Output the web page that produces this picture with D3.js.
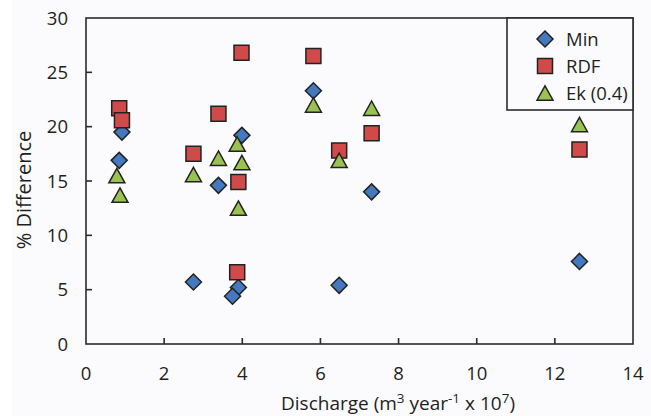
<!DOCTYPE html>
<html>
<head>
<meta charset="utf-8">
<script src="https://cdn.jsdelivr.net/npm/d3@7"></script>
<style>
  body { margin: 0; background: #fff; }
  text { font-family: "Open Sans", sans-serif; fill: #231f20; }
</style>
</head>
<body>
<script>
// Data: discharge (x 10^7 m3/yr) and % difference
const minX = [0.92, 0.85, 2.75, 3.39, 3.99, 3.90, 3.75, 5.82, 6.48, 7.31, 12.63];
const minY = [19.5, 16.9, 5.7, 14.6, 19.2, 5.2, 4.4, 23.3, 5.4, 14.0, 7.6];
const rdfX = [0.85, 0.92, 2.75, 3.39, 3.98, 3.90, 3.87, 5.82, 6.48, 7.31, 12.63];
const rdfY = [21.7, 20.6, 17.5, 21.2, 26.8, 14.9, 6.6, 26.5, 17.8, 19.4, 17.9];
const ekX = [0.79, 0.87, 2.75, 3.39, 3.87, 3.99, 3.90, 5.82, 6.48, 7.31, 12.63];
const ekY = [15.5, 13.7, 15.6, 17.1, 18.4, 16.7, 12.5, 22.0, 16.9, 21.7, 20.2];

const xTicks = [0, 2, 4, 6, 8, 10, 12, 14];
const yTicks = [0, 5, 10, 15, 20, 25, 30];
const seriesNames = ["Min", "RDF", "Ek (0.4)"];

// Layout
const W = 651, H = 416;
const plot = { left: 86, right: 633, top: 18, bottom: 344 };

const svg = d3.select("body").append("svg")
  .attr("width", W).attr("height", H);

svg.append("rect").attr("x", 12).attr("y", 0).attr("width", W - 12).attr("height", H)
  .attr("fill", "#fbfbfd");

const x = d3.scaleLinear().domain([0, 14]).range([plot.left, plot.right]);
const y = d3.scaleLinear().domain([0, 30]).range([plot.bottom, plot.top]);

// Marker shapes
const diamond = s => `M0,${-s}L${s},0L0,${s}L${-s},0Z`;
const square = s => `M${-s},${-s}H${s}V${s}H${-s}Z`;
const triangle = s => `M0,${-s * 0.9}L${s},${s * 0.9}L${-s},${s * 0.9}Z`;

const styles = [
  { shape: diamond(8), fill: "#4479c0" },
  { shape: square(7.5), fill: "#cf4a48" },
  { shape: triangle(8), fill: "#9ac252" }
];

// Axes frame
const frame = svg.append("g").attr("stroke", "#2b2b2b").attr("stroke-width", 1.6).attr("fill", "none");
frame.append("rect").attr("x", plot.left).attr("y", plot.top)
  .attr("width", plot.right - plot.left).attr("height", plot.bottom - plot.top);

// Ticks (inside)
frame.selectAll(".xt").data(xTicks.slice(1, -1)).enter().append("line")
  .attr("x1", d => x(d)).attr("x2", d => x(d))
  .attr("y1", plot.bottom).attr("y2", plot.bottom - 6);
frame.selectAll(".yt").data(yTicks.slice(1, -1)).enter().append("line")
  .attr("x1", plot.left).attr("x2", plot.left + 6)
  .attr("y1", d => y(d)).attr("y2", d => y(d));

// Tick labels
svg.append("g").selectAll("text").data(xTicks).enter().append("text")
  .attr("x", d => x(d)).attr("y", 380)
  .attr("text-anchor", "middle").attr("font-size", 18.5)
  .text(d => d);
svg.append("g").selectAll("text").data(yTicks).enter().append("text")
  .attr("x", 68).attr("y", d => y(d)).attr("dy", "0.36em")
  .attr("text-anchor", "end").attr("font-size", 18.5)
  .text(d => d);

// Axis titles
const xt = svg.append("text").attr("x", 398).attr("y", 410)
  .attr("text-anchor", "middle").attr("font-size", 19);
xt.append("tspan").text("Discharge (m");
xt.append("tspan").attr("dy", -7).attr("font-size", 13.5).text("3");
xt.append("tspan").attr("dy", 7).text(" year");
xt.append("tspan").attr("dy", -7).attr("font-size", 13.5).text("-1");
xt.append("tspan").attr("dy", 7).text(" x 10");
xt.append("tspan").attr("dy", -7).attr("font-size", 13.5).text("7");
xt.append("tspan").attr("dy", 7).text(")");

svg.append("text").attr("transform", "translate(31,190) rotate(-90)")
  .attr("text-anchor", "middle").attr("font-size", 20)
  .text("% Difference");

// Points
const series = [
  minX.map((d, i) => [d, minY[i]]),
  rdfX.map((d, i) => [d, rdfY[i]]),
  ekX.map((d, i) => [d, ekY[i]])
];
const marks = svg.append("g");
series.forEach((pts, k) => {
  marks.append("g").selectAll("path").data(pts).enter().append("path")
    .attr("transform", d => `translate(${x(d[0])},${y(d[1])})`)
    .attr("d", styles[k].shape)
    .attr("fill", styles[k].fill)
    .attr("stroke", "#222").attr("stroke-width", 1.5);
});

// Legend
const lg = svg.append("g");
lg.append("rect").attr("x", 507).attr("y", plot.top)
  .attr("width", plot.right - 507).attr("height", 110 - plot.top)
  .attr("fill", "#fbfbfd").attr("stroke", "#2b2b2b").attr("stroke-width", 1.6);
seriesNames.forEach((name, k) => {
  const ly = 39 + k * 27;
  lg.append("path").attr("transform", `translate(545,${ly})`)
    .attr("d", styles[k].shape).attr("fill", styles[k].fill)
    .attr("stroke", "#222").attr("stroke-width", 1.5);
  lg.append("text").attr("x", 566).attr("y", ly).attr("dy", "0.36em")
    .attr("font-size", 18.5).text(name);
});
</script>
</body>
</html>
